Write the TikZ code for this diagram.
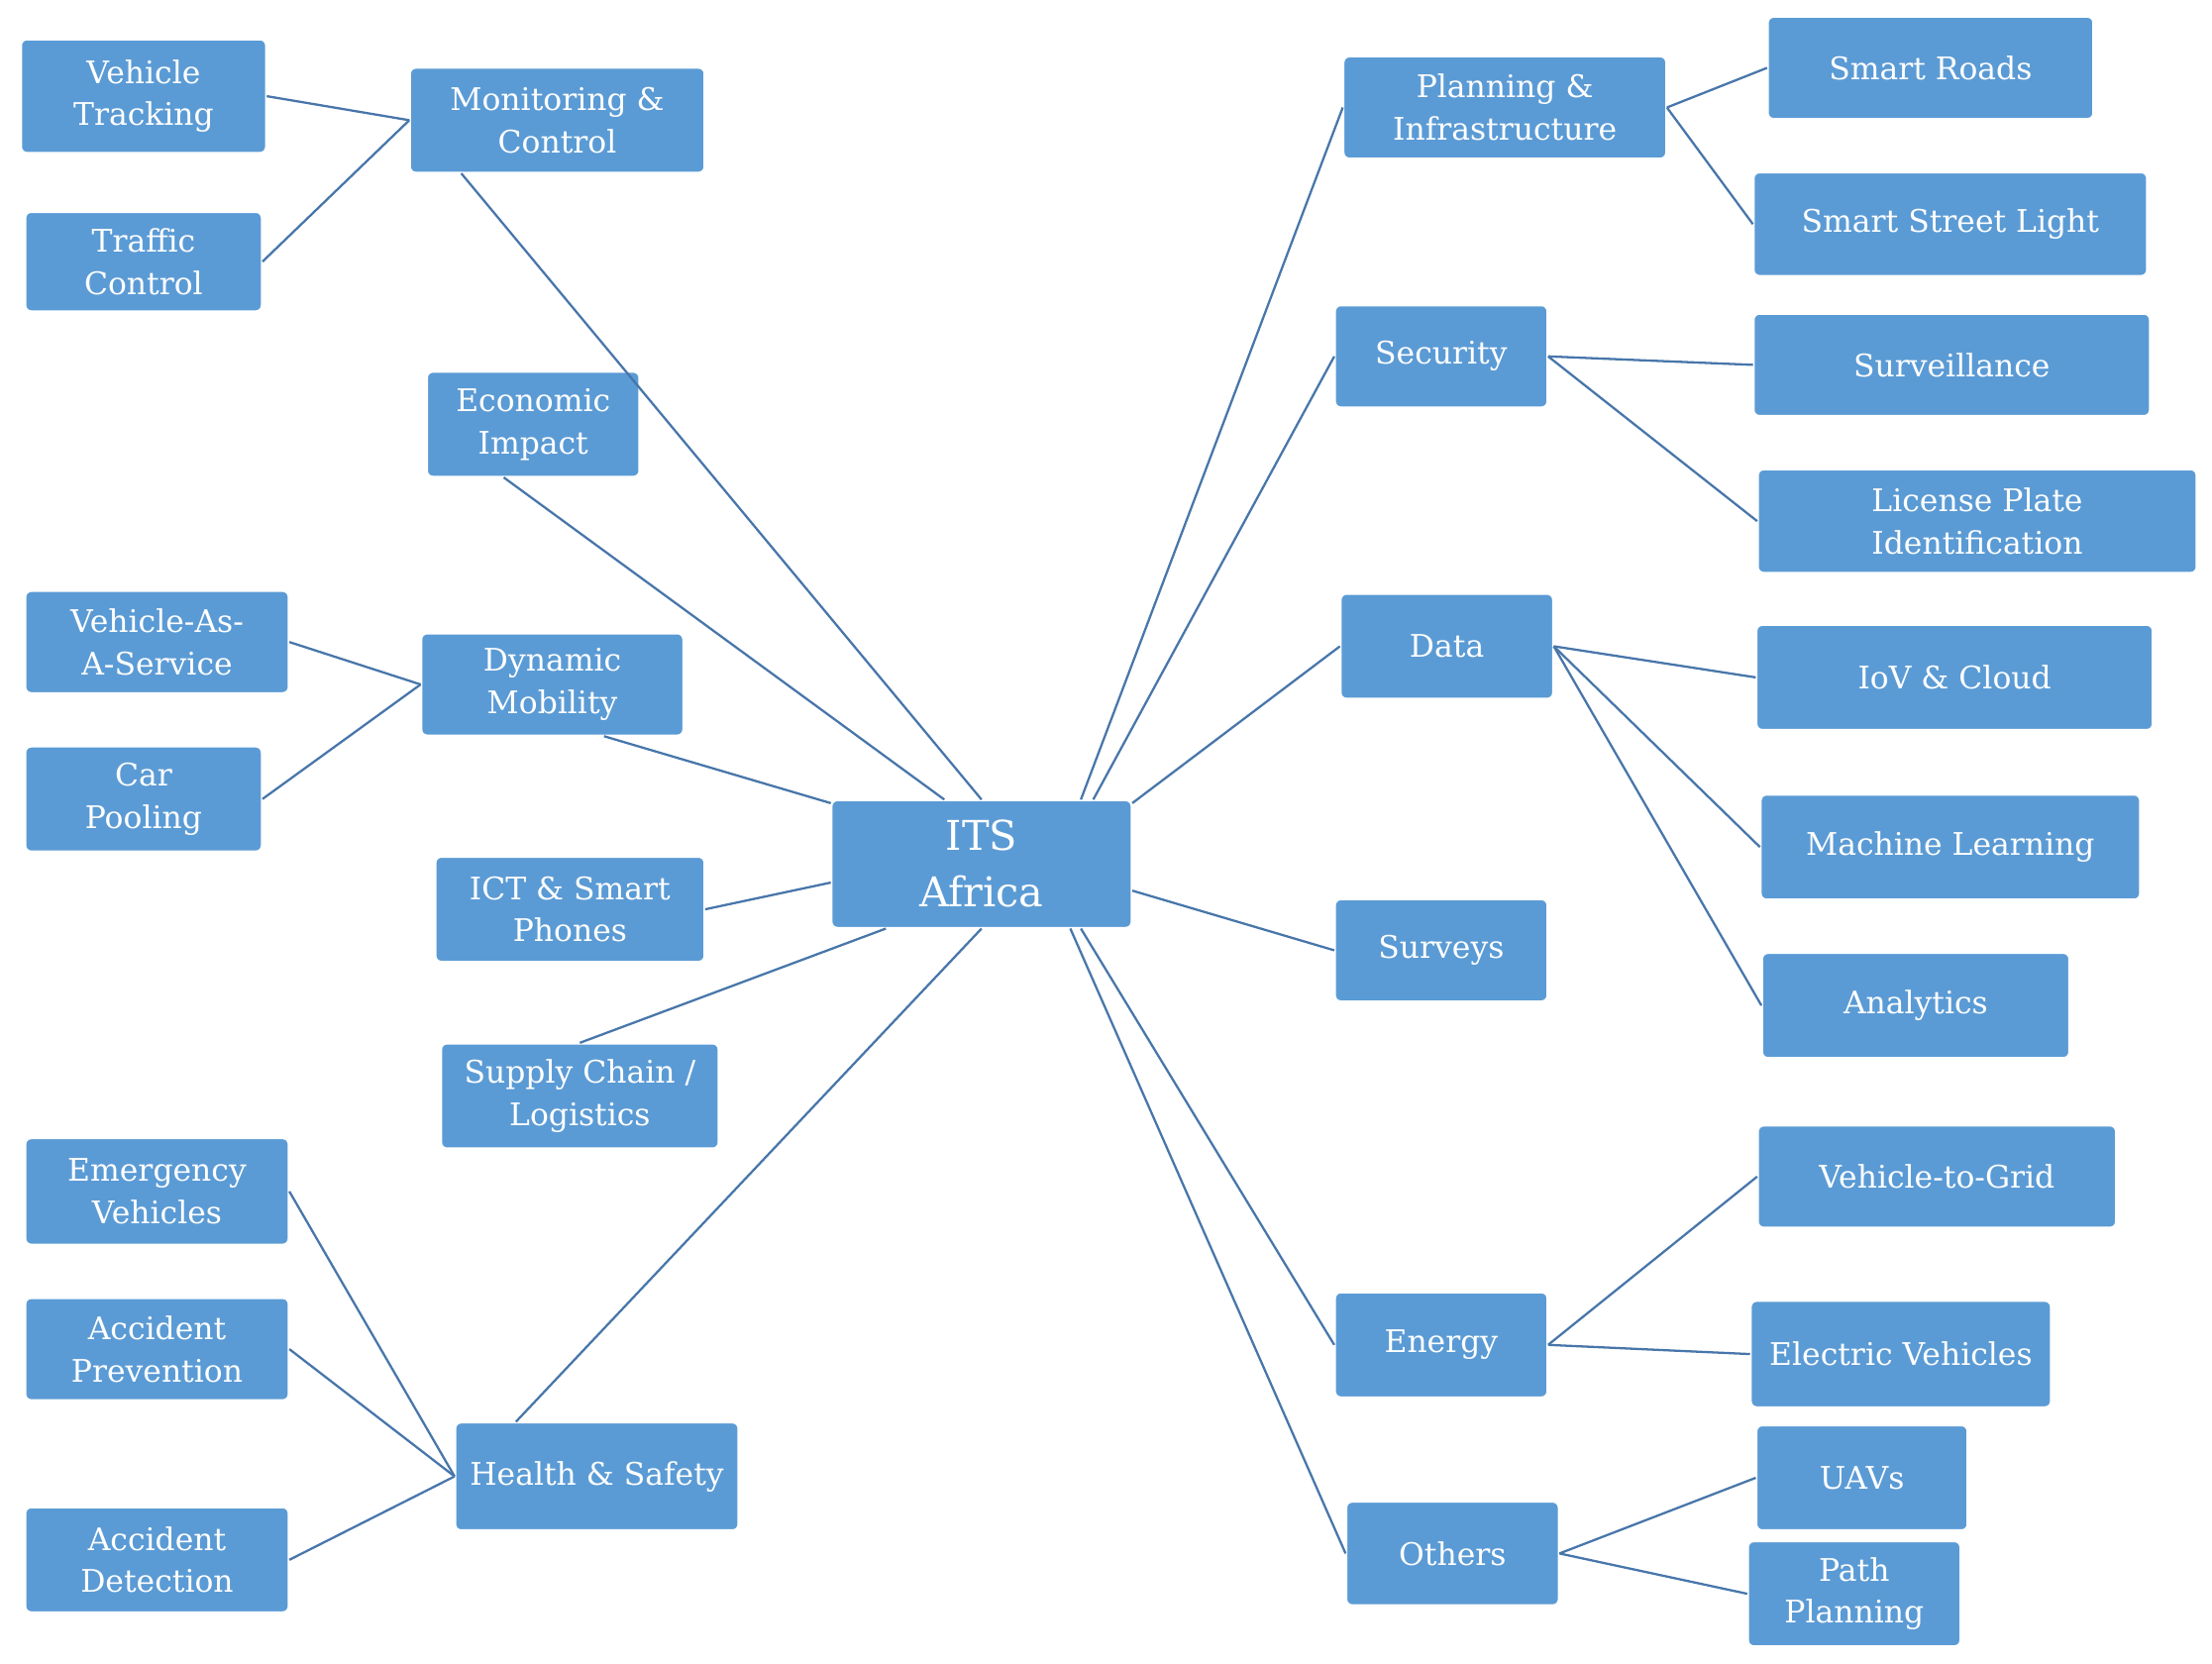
\documentclass[tikz,border=0pt]{standalone}
\usepackage{fontspec}
\setmainfont{DejaVu Serif}
\begin{document}
\begin{tikzpicture}[x=1pt,y=-1pt,
  box/.style={draw=white,line width=1.2pt,fill={rgb,255:red,91;green,155;blue,213},rounded corners=4pt,text=white,align=center,inner sep=0pt,font=\fontsize{22}{30}\selectfont},
  con/.style={draw={rgb,255:red,72;green,118;blue,170},line width=1.6pt}]
\useasboundingbox (0,0) rectangle (1564,1176);
\newcommand\bx[6]{\node[box,minimum width={#4-#2},minimum height={#5-#3}] (#1) at ({(#2+#4)/2},{(#3+#5)/2}) {#6};}
\bx{vt}{15}{28}{188}{108}{Vehicle\\Tracking}
\bx{tc}{18}{150}{185}{220}{Traffic\\Control}
\bx{mon}{290}{48}{498}{122}{Monitoring \&\\Control}
\bx{eco}{302}{263}{452}{337}{Economic\\Impact}
\bx{vaas}{18}{418}{204}{490}{Vehicle-As-\\A-Service}
\bx{cp}{18}{528}{185}{602}{Car\\Pooling}
\bx{dyn}{298}{448}{483}{520}{Dynamic\\Mobility}
\bx{ict}{308}{606}{498}{680}{ICT \& Smart\\Phones}
\bx{sup}{312}{738}{508}{812}{Supply Chain /\\Logistics}
\node[box,minimum width=212,minimum height=90,font=\fontsize{29}{40}\selectfont] (its) at (694,611) {ITS\\Africa};
\bx{ev}{18}{805}{204}{880}{Emergency\\Vehicles}
\bx{ap}{18}{918}{204}{990}{Accident\\Prevention}
\bx{ad}{18}{1066}{204}{1140}{Accident\\Detection}
\bx{hs}{322}{1006}{522}{1082}{Health \& Safety}
\bx{pi}{950}{40}{1178}{112}{Planning \&\\Infrastructure}
\bx{sr}{1250}{12}{1480}{84}{Smart Roads}
\bx{ssl}{1240}{122}{1518}{195}{Smart Street Light}
\bx{sec}{944}{216}{1094}{288}{Security}
\bx{sur}{1240}{222}{1520}{294}{Surveillance}
\bx{lpi}{1243}{332}{1553}{405}{License Plate\\Identification}
\bx{dat}{948}{420}{1098}{494}{Data}
\bx{iov}{1242}{442}{1522}{516}{IoV \& Cloud}
\bx{ml}{1245}{562}{1513}{636}{Machine Learning}
\bx{ana}{1246}{674}{1463}{748}{Analytics}
\bx{svy}{944}{636}{1094}{708}{Surveys}
\bx{v2g}{1243}{796}{1496}{868}{Vehicle-to-Grid}
\bx{ene}{944}{914}{1094}{988}{Energy}
\bx{elv}{1238}{920}{1450}{995}{Electric Vehicles}
\bx{oth}{952}{1062}{1102}{1135}{Others}
\bx{uav}{1242}{1008}{1391}{1082}{UAVs}
\bx{pp}{1236}{1090}{1386}{1164}{Path\\Planning}
\draw[con] (mon.-151) -- (its.north);
\draw[con] (eco.-119) -- (its.120);
\draw[con] (dyn.-45) -- (its.158);
\draw[con] (ict.east) -- (its.187);
\draw[con] (sup.north) -- (its.-146);
\draw[con] (hs.146) -- (its.south);
\draw[con] (its.33) -- (pi.west);
\draw[con] (its.30) -- (sec.west);
\draw[con] (its.22) -- (dat.west);
\draw[con] (its.-10) -- (svy.west);
\draw[con] (its.-33) -- (ene.west);
\draw[con] (its.-36) -- (oth.west);
\draw[con] (vt.east) -- (mon.west);
\draw[con] (tc.east) -- (mon.west);
\draw[con] (vaas.east) -- (dyn.west);
\draw[con] (cp.east) -- (dyn.west);
\draw[con] (ev.east) -- (hs.west);
\draw[con] (ap.east) -- (hs.west);
\draw[con] (ad.east) -- (hs.west);
\draw[con] (pi.east) -- (sr.west);
\draw[con] (pi.east) -- (ssl.west);
\draw[con] (sec.east) -- (sur.west);
\draw[con] (sec.east) -- (lpi.west);
\draw[con] (dat.east) -- (iov.west);
\draw[con] (dat.east) -- (ml.west);
\draw[con] (dat.east) -- (ana.west);
\draw[con] (ene.east) -- (v2g.west);
\draw[con] (ene.east) -- (elv.west);
\draw[con] (oth.east) -- (uav.west);
\draw[con] (oth.east) -- (pp.west);
\end{tikzpicture}
\end{document}
